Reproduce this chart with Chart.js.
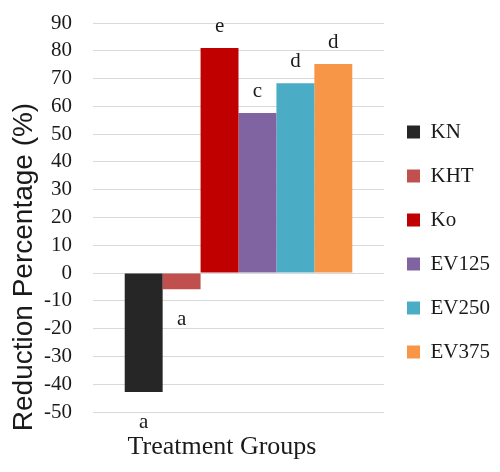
<!DOCTYPE html>
<html>
<head>
<meta charset="utf-8">
<script src="https://cdn.jsdelivr.net/npm/chart.js@4/dist/chart.umd.min.js"></script>
<style>
  html, body { margin: 0; padding: 0; background: #fff; }
  #wrap { width: 500px; height: 472px; }
</style>
</head>
<body>
<div id="wrap"><canvas id="grafico"></canvas></div>
<script>
// Dados do gráfico
const grupos = ['KN', 'KHT', 'Ko', 'EV125', 'EV250', 'EV375'];
const reducao = [-42.8, -5.8, 81, 57.6, 68.3, 75.2];
const letras = ['a', 'a', 'e', 'c', 'd', 'd'];
const cores = ['#262626', '#c0504d', '#c00000', '#8064a2', '#4bacc6', '#f79646'];
const ticksY = { min: -50, max: 90, passo: 10 };
const tituloX = 'Treatment Groups';
const tituloY = 'Reduction Percentage (%)';

const serif = '"Liberation Serif", "Times New Roman", serif';
const sans = '"Liberation Sans", Arial, sans-serif';

// Letras de significância acima/abaixo das barras
const letrasPlugin = {
  id: 'letras',
  afterDatasetsDraw(chart) {
    const ctx = chart.ctx;
    ctx.save();
    ctx.font = '21px ' + serif;
    ctx.fillStyle = '#1a1a1a';
    ctx.textAlign = 'center';
    ctx.textBaseline = 'middle';
    chart.data.datasets.forEach((ds, i) => {
      const bar = chart.getDatasetMeta(i).data[0];
      const y = ds.data[0] >= 0 ? bar.y - 22 : bar.y + 30;
      ctx.fillText(letras[i], bar.x, y);
    });
    ctx.restore();
  }
};

// Títulos dos eixos (posição deslocada como no original)
const titulosPlugin = {
  id: 'titulos',
  afterDraw(chart) {
    const ctx = chart.ctx;
    const area = chart.chartArea;
    ctx.save();
    ctx.fillStyle = '#1a1a1a';
    ctx.textAlign = 'center';
    ctx.textBaseline = 'alphabetic';
    ctx.font = '26px ' + serif;
    ctx.fillText(tituloX, area.left + 129, area.bottom + 42);
    ctx.translate(32, area.bottom - 145);
    ctx.rotate(-Math.PI / 2);
    ctx.font = '28px ' + sans;
    ctx.fillText(tituloY, 0, 0);
    ctx.restore();
  }
};

new Chart(document.getElementById('grafico'), {
  type: 'bar',
  data: {
    labels: [''],
    datasets: grupos.map((g, i) => ({
      label: g,
      data: [reducao[i]],
      backgroundColor: cores[i],
      borderWidth: 0,
      barPercentage: 1,
      categoryPercentage: 0.782
    }))
  },
  options: {
    responsive: true,
    maintainAspectRatio: false,
    animation: false,
    layout: { padding: { top: 13, left: 0, right: 0, bottom: 1 } },
    plugins: {
      tooltip: { enabled: false },
      legend: {
        position: 'right',
        labels: {
          boxWidth: 13,
          boxHeight: 13,
          padding: 23,
          color: '#1a1a1a',
          font: { family: serif, size: 21 }
        }
      }
    },
    scales: {
      x: {
        grid: { display: false, drawTicks: false },
        border: { display: false },
        ticks: { display: false },
        afterFit(scale) { scale.height = 59; }
      },
      y: {
        min: ticksY.min,
        max: ticksY.max,
        grid: { color: '#d9d9d9', drawTicks: true, tickLength: 10.6, tickColor: 'rgba(0,0,0,0)' },
        border: { display: false },
        ticks: {
          stepSize: ticksY.passo,
          autoSkip: false,
          padding: 10.4,
          color: '#1a1a1a',
          font: { family: serif, size: 21 }
        },
        afterFit(scale) { scale.width = 93; }
      }
    }
  },
  plugins: [letrasPlugin, titulosPlugin]
});
</script>
</body>
</html>
